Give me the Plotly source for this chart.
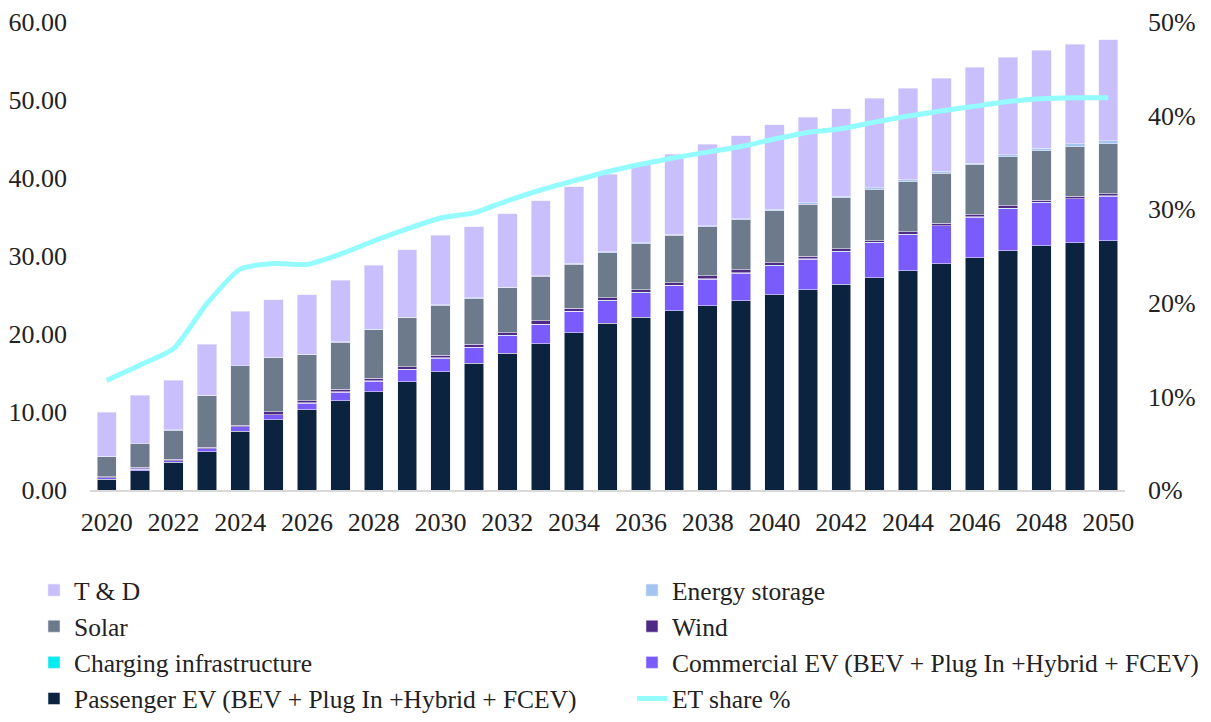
import plotly.graph_objects as go

years = list(range(2020, 2051))

passenger_ev = [1.37, 2.48, 3.55, 4.91, 7.56, 9.02, 10.30, 11.45, 12.60, 13.89,
                15.17, 16.28, 17.56, 18.76, 20.17, 21.37, 22.18, 22.99, 23.63, 24.27,
                25.04, 25.68, 26.41, 27.22, 28.12, 29.01, 29.78, 30.68, 31.32, 31.71, 31.97]
commercial_ev = [0.17, 0.21, 0.21, 0.35, 0.56, 0.64, 0.85, 1.11, 1.37, 1.58,
                 1.75, 2.01, 2.23, 2.48, 2.74, 2.90, 3.12, 3.25, 3.42, 3.55,
                 3.72, 3.92, 4.15, 4.49, 4.61, 4.84, 5.18, 5.39, 5.52, 5.60, 5.68]
charging_infra = [0.01, 0.01, 0.01, 0.02, 0.02, 0.02, 0.02, 0.02, 0.03, 0.03,
                  0.03, 0.03, 0.03, 0.03, 0.03, 0.04, 0.04, 0.04, 0.04, 0.04,
                  0.04, 0.04, 0.04, 0.05, 0.05, 0.05, 0.05, 0.05, 0.05, 0.05, 0.05]
wind = [0.16, 0.20, 0.16, 0.19, 0.15, 0.36, 0.28, 0.32, 0.30, 0.31,
        0.35, 0.35, 0.35, 0.40, 0.35, 0.35, 0.34, 0.30, 0.39, 0.38,
        0.34, 0.36, 0.30, 0.22, 0.30, 0.29, 0.29, 0.33, 0.29, 0.33, 0.29]
solar = [2.56, 3.03, 3.76, 6.63, 7.61, 6.92, 5.90, 6.03, 6.25, 6.29,
         6.37, 5.86, 5.73, 5.73, 5.68, 5.76, 5.90, 6.07, 6.24, 6.38,
         6.67, 6.62, 6.58, 6.53, 6.45, 6.45, 6.37, 6.28, 6.32, 6.33, 6.41]
energy_storage = [0.03, 0.03, 0.04, 0.04, 0.05, 0.05, 0.06, 0.06, 0.07, 0.08,
                  0.08, 0.09, 0.10, 0.10, 0.11, 0.12, 0.13, 0.14, 0.15, 0.16,
                  0.17, 0.18, 0.19, 0.21, 0.24, 0.22, 0.24, 0.27, 0.33, 0.34, 0.38]
t_and_d = [5.67, 6.18, 6.34, 6.53, 6.95, 7.41, 7.64, 7.90, 8.20, 8.62,
           8.89, 9.14, 9.40, 9.57, 9.82, 9.94, 10.07, 10.26, 10.45, 10.64,
           10.83, 11.02, 11.21, 11.48, 11.71, 11.96, 12.27, 12.47, 12.53, 12.82, 12.96]
et_share = [0.117, 0.1335, 0.151, 0.199, 0.236, 0.242, 0.241, 0.252, 0.266, 0.279,
            0.2906, 0.296, 0.309, 0.3205, 0.3305, 0.340, 0.348, 0.355, 0.361, 0.367,
            0.375, 0.382, 0.386, 0.393, 0.3996, 0.405, 0.410, 0.415, 0.418, 0.419, 0.419]

# (name, values, colour, legend column, rank within column)
series = [
    ("Passenger EV (BEV + Plug In +Hybrid + FCEV)", passenger_ev, "#0c2340", "legend", 4),
    ("Commercial EV (BEV + Plug In +Hybrid + FCEV)", commercial_ev, "#7a5cfd", "legend2", 3),
    ("Charging infrastructure", charging_infra, "#00eef0", "legend", 3),
    ("Wind", wind, "#4e2a84", "legend2", 2),
    ("Solar", solar, "#6c7a8b", "legend", 2),
    ("Energy storage", energy_storage, "#a4c5f0", "legend2", 1),
    ("T & D", t_and_d, "#c9bffc", "legend", 1),
]

FONT = "Liberation Serif"
FS = 26
LFS = 25.5
TXT = "#222222"

fig = go.Figure()
for name, vals, color, leg, rank in series:
    fig.add_trace(go.Bar(
        x=years, y=vals, name=name, legend=leg, legendrank=rank,
        marker=dict(color=color, line=dict(color="rgba(235,235,250,0.7)", width=0.8)),
    ))

fig.add_trace(go.Scatter(
    x=years, y=et_share, name="ET share %", yaxis="y2", legend="legend2", legendrank=4,
    mode="lines", line=dict(color="#94fbff", width=5, shape="spline", smoothing=0.6),
))

legend_common = dict(
    orientation="v", xref="container", yref="container", xanchor="left",
    yanchor="top", y=0.2171, traceorder="normal", itemwidth=30,
    font=dict(family=FONT, size=LFS, color=TXT), bgcolor="rgba(0,0,0,0)",
    tracegroupgap=0,
)

# the page body adds an 8px offset, so the figure is 8px smaller than the window
fig.update_layout(
    barmode="stack",
    bargap=0.42,
    width=1203, height=714,
    margin=dict(l=82, r=86, t=14, b=232, autoexpand=False),
    plot_bgcolor="white", paper_bgcolor="white",
    font=dict(family=FONT, size=FS, color=TXT),
    xaxis=dict(
        range=[2019.5, 2050.5], tickmode="linear", tick0=2020, dtick=2,
        showgrid=False, zeroline=False, showline=True, linecolor="#d9d9d9", linewidth=2,
        ticks="", ticklabelstandoff=8, tickfont=dict(family=FONT, size=FS, color=TXT),
    ),
    yaxis=dict(
        range=[0, 60], tickmode="linear", tick0=0, dtick=10, tickformat=".2f",
        showgrid=False, zeroline=False, showline=False, ticks="",
        ticklabelstandoff=22, tickfont=dict(family=FONT, size=FS, color=TXT),
    ),
    yaxis2=dict(
        overlaying="y", side="right", range=[0, 0.5], tickmode="linear", tick0=0, dtick=0.1,
        tickformat=".0%", showgrid=False, zeroline=False, showline=False, ticks="",
        ticklabelstandoff=22, tickfont=dict(family=FONT, size=FS, color=TXT),
    ),
    legend=dict(legend_common, x=0.0216),
    legend2=dict(legend_common, x=0.5187),
    showlegend=True,
)

fig.write_html("out.html")
